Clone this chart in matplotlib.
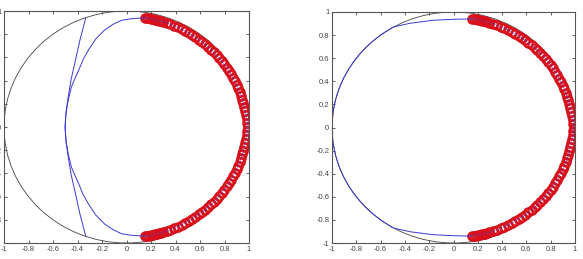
import numpy as np
import matplotlib
matplotlib.use("Agg")
import matplotlib.pyplot as plt
from matplotlib.patches import Circle

plt.rcParams['font.family'] = ['Liberation Sans', 'DejaVu Sans']

# red sample points (shared by both panels)
red_x = [0.150, 0.165, 0.182, 0.198, 0.215, 0.231, 0.247, 0.263, 0.279, 0.295,
         0.327, 0.358, 0.388, 0.419, 0.449, 0.478, 0.507, 0.535, 0.563, 0.590,
         0.617, 0.642, 0.667, 0.691, 0.715, 0.737, 0.759, 0.779, 0.799, 0.818,
         0.836, 0.853, 0.869, 0.884, 0.899, 0.912, 0.924, 0.935, 0.945, 0.954,
         0.962, 0.970, 0.977, 0.983, 0.987, 0.990,
         0.987, 0.983, 0.977, 0.970, 0.962, 0.954, 0.945, 0.935, 0.924, 0.912,
         0.899, 0.884, 0.869, 0.853, 0.836, 0.818, 0.799, 0.779, 0.759, 0.737,
         0.715, 0.691, 0.667, 0.642, 0.617, 0.590, 0.563, 0.535, 0.507, 0.478,
         0.449, 0.419, 0.388, 0.358, 0.327, 0.295, 0.279, 0.263, 0.247, 0.231,
         0.215, 0.198, 0.182, 0.165, 0.150]
red_y = [0.940, 0.939, 0.936, 0.933, 0.929, 0.926, 0.922, 0.918, 0.913, 0.908,
         0.898, 0.886, 0.872, 0.858, 0.843, 0.828, 0.811, 0.793, 0.774, 0.754,
         0.735, 0.713, 0.690, 0.667, 0.644, 0.618, 0.593, 0.566, 0.539, 0.511,
         0.483, 0.454, 0.424, 0.394, 0.363, 0.332, 0.300, 0.268, 0.236, 0.203,
         0.170, 0.137, 0.103, 0.069, 0.034, 0.000,
         -0.034, -0.069, -0.103, -0.137, -0.170, -0.203, -0.236, -0.268, -0.300, -0.332,
         -0.363, -0.394, -0.424, -0.454, -0.483, -0.511, -0.539, -0.566, -0.593, -0.618,
         -0.644, -0.667, -0.690, -0.713, -0.735, -0.754, -0.774, -0.793, -0.811, -0.828,
         -0.843, -0.858, -0.872, -0.886, -0.898, -0.908, -0.913, -0.918, -0.922, -0.926,
         -0.929, -0.933, -0.936, -0.939, -0.940]

# left panel: curved blue path on the left side
left_curve_x = [0.15, 0.05, -0.04, -0.11, -0.18, -0.25, -0.31, -0.355, -0.39, -0.42,
                -0.45, -0.475, -0.49, -0.498, -0.50,
                -0.498, -0.49, -0.475, -0.45, -0.42, -0.39, -0.355, -0.31, -0.25,
                -0.18, -0.11, -0.04, 0.05, 0.15]
left_curve_y = [0.94, 0.935, 0.92, 0.885, 0.835, 0.76, 0.665, 0.58, 0.49, 0.42,
                0.345, 0.235, 0.145, 0.07, 0.0,
                -0.07, -0.145, -0.235, -0.345, -0.42, -0.49, -0.58, -0.665, -0.76,
                -0.835, -0.885, -0.92, -0.935, -0.94]
# left panel: near-straight blue segments
left_line_x = [-0.333, -0.38, -0.42, -0.452, -0.475, -0.493, -0.502,
               -0.493, -0.475, -0.452, -0.42, -0.38, -0.333]
left_line_y = [0.94, 0.75, 0.56, 0.41, 0.265, 0.13, 0.0,
               -0.13, -0.265, -0.41, -0.56, -0.75, -0.94]

# right panel: blue path on the left side (runs along the unit circle between the kinks)
right_curve_x = [0.15, 0.0, -0.17, -0.36, -0.495, -0.55, -0.6, -0.66, -0.72, -0.77,
                 -0.82, -0.86, -0.9, -0.93, -0.955, -0.975, -0.99, -0.998, -1.0,
                 -0.998, -0.99, -0.975, -0.955, -0.93, -0.9, -0.86, -0.82, -0.77,
                 -0.72, -0.66, -0.6, -0.55, -0.495, -0.36, -0.17, 0.0, 0.15]
right_curve_y = [0.94, 0.937, 0.928, 0.902, 0.87, 0.835, 0.8, 0.751, 0.694, 0.638,
                 0.572, 0.51, 0.436, 0.368, 0.297, 0.222, 0.14, 0.06, 0.0,
                 -0.06, -0.14, -0.222, -0.297, -0.368, -0.436, -0.51, -0.572, -0.638,
                 -0.694, -0.751, -0.8, -0.835, -0.87, -0.902, -0.928, -0.937, -0.94]

ticks = [-1, -0.8, -0.6, -0.4, -0.2, 0, 0.2, 0.4, 0.6, 0.8, 1]
tick_labels = ["-1", "-0.8", "-0.6", "-0.4", "-0.2", "0", "0.2", "0.4", "0.6", "0.8", "1"]

fig = plt.figure(figsize=(5.83, 2.59), dpi=100)
ax1 = fig.add_axes([4/583, 16/259, 245/583, 232/259])
ax2 = fig.add_axes([332/583, 16/259, 243/583, 231/259])

blue = '#3a3ad0'
for ax in (ax1, ax2):
    ax.add_patch(Circle((0, 0), 1, fill=False, ec='#444444', lw=0.6))
    ax.plot(red_x, red_y, 'o', mfc='none', mec='#d8101c', ms=6, mew=1.6)
    ax.plot(red_x, red_y, color=blue, lw=0.5, alpha=0.6)
    ax.set_xlim(-1, 1)
    ax.set_ylim(-1, 1)
    ax.set_xticks(ticks)
    ax.set_xticklabels(tick_labels)
    ax.set_yticks(ticks)
    ax.set_yticklabels(tick_labels)
    ax.tick_params(direction='in', length=2.5, width=0.6, labelsize=5.5,
                   colors='#444444', top=True, right=True, pad=2)
    for s in ax.spines.values():
        s.set_color('#555555')
        s.set_linewidth(0.8)

ax1.plot(left_curve_x, left_curve_y, color=blue, lw=0.7)
ax1.plot(left_line_x, left_line_y, color=blue, lw=0.7)
ax2.plot(right_curve_x, right_curve_y, color=blue, lw=0.7)

fig.savefig("out.png", dpi=100)
